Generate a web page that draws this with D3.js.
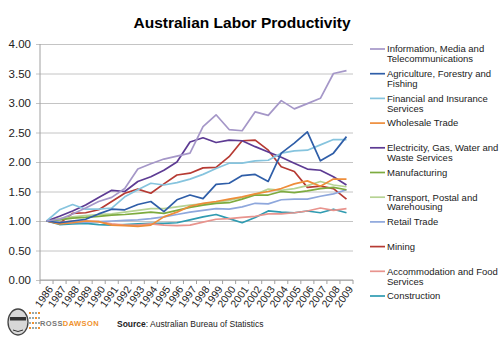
<!DOCTYPE html>
<html>
<head>
<meta charset="utf-8">
<script src="https://cdn.jsdelivr.net/npm/d3@7"></script>
<style>
  body { margin: 0; background: #fff; }
  text { font-family: "Liberation Sans", Arial, sans-serif; }
</style>
</head>
<body>
<div id="chart"></div>
<script>
const years = d3.range(1986, 2010).map(String)
const yTicks = [0, 0.5, 1, 1.5, 2, 2.5, 3, 3.5, 4]

// productivity index, 1986 = 1.00
const info = [1.00,1.03,1.12,1.22,1.33,1.40,1.55,1.88,1.97,2.05,2.10,2.15,2.60,2.80,2.55,2.53,2.85,2.79,3.04,2.90,2.99,3.08,3.50,3.55]
const agriculture = [1.00,0.97,1.00,1.03,1.12,1.20,1.19,1.28,1.33,1.16,1.36,1.44,1.38,1.62,1.64,1.77,1.79,1.67,2.15,2.32,2.51,2.02,2.15,2.43]
const financial = [1.00,1.19,1.28,1.20,1.20,1.22,1.41,1.53,1.64,1.61,1.65,1.71,1.79,1.89,1.98,1.98,2.02,2.03,2.15,2.19,2.20,2.29,2.38,2.38]
const wholesale = [1.00,0.95,0.97,1.00,0.99,0.93,0.92,0.91,0.93,1.07,1.15,1.25,1.30,1.33,1.37,1.41,1.46,1.50,1.55,1.63,1.68,1.59,1.71,1.71]
const electricity = [1.00,1.08,1.17,1.27,1.40,1.52,1.50,1.67,1.75,1.86,2.00,2.34,2.41,2.33,2.37,2.36,2.26,2.17,2.08,1.98,1.88,1.86,1.75,1.61]
const manufacturing = [1.00,1.02,1.05,1.06,1.08,1.10,1.11,1.13,1.15,1.13,1.18,1.23,1.27,1.30,1.31,1.37,1.44,1.44,1.50,1.48,1.51,1.55,1.57,1.53]
const transport = [1.00,1.04,1.07,1.09,1.11,1.12,1.15,1.18,1.21,1.21,1.24,1.27,1.29,1.32,1.35,1.40,1.45,1.54,1.52,1.55,1.60,1.67,1.61,1.58]
const retail = [1.00,0.98,0.97,0.98,0.99,1.00,1.01,1.02,1.04,1.07,1.11,1.15,1.18,1.21,1.20,1.24,1.30,1.29,1.36,1.37,1.37,1.42,1.46,1.53]
const mining = [1.00,0.96,1.13,1.14,1.19,1.33,1.47,1.54,1.47,1.63,1.78,1.81,1.90,1.91,2.09,2.36,2.37,2.20,1.92,1.84,1.57,1.59,1.55,1.37]
const accommodation = [1.00,0.98,1.00,1.00,0.99,0.95,0.93,0.93,0.95,0.93,0.92,0.93,0.98,1.03,1.04,1.06,1.08,1.12,1.12,1.14,1.17,1.22,1.18,1.21]
const construction = [1.00,0.94,0.95,0.96,0.94,0.93,0.94,0.95,0.96,0.96,0.97,1.02,1.07,1.11,1.04,0.97,1.06,1.17,1.15,1.14,1.17,1.14,1.20,1.14]

const series = [
  { name: ['Information,  Media and', 'Telecommunications'], values: info, color: '#a597c8' },
  { name: ['Agriculture,  Forestry and', 'Fishing'], values: agriculture, color: '#2f5ea8' },
  { name: ['Financial and Insurance', 'Services'], values: financial, color: '#86c4de' },
  { name: ['Wholesale Trade'], values: wholesale, color: '#ee8d3a' },
  { name: ['Electricity,  Gas, Water and', 'Waste Services'], values: electricity, color: '#5d3b93' },
  { name: ['Manufacturing'], values: manufacturing, color: '#7dab3f' },
  { name: ['Transport,  Postal and', 'Warehousing'], values: transport, color: '#b6d393' },
  { name: ['Retail Trade'], values: retail, color: '#8ea7dc' },
  { name: ['Mining'], values: mining, color: '#b63a33' },
  { name: ['Accommodation and Food', 'Services'], values: accommodation, color: '#e8948e' },
  { name: ['Construction'], values: construction, color: '#2f9bb1' },
]

const width = 500, height = 340
const plot = { left: 40, right: 353, top: 44, bottom: 280 }

const svg = d3.select('#chart')
  .append('svg')
  .attr('width', width)
  .attr('height', height)

svg.append('rect').attr('width', width).attr('height', height).attr('fill', '#fff')

const x = d3.scalePoint().domain(years).range([plot.left, plot.right]).padding(0.5)
const y = d3.scaleLinear().domain([0, 4]).range([plot.bottom, plot.top])

// title
svg.append('text')
  .attr('x', 242).attr('y', 28)
  .attr('text-anchor', 'middle')
  .attr('font-size', 15.5).attr('font-weight', 'bold')
  .text('Australian Labor Productivity')

// gridlines + y axis
const yAxis = svg.append('g')
  .attr('transform', `translate(${plot.left},0)`)
  .call(d3.axisLeft(y).tickValues(yTicks).tickFormat(d3.format('.2f'))
    .tickSize(-(plot.right - plot.left)).tickPadding(9))
yAxis.select('.domain').remove()
yAxis.selectAll('line').attr('stroke', '#c4c4c4').attr('x1', -4)
yAxis.selectAll('text').attr('font-size', 11.5).attr('fill', '#222')

svg.append('line')
  .attr('x1', plot.left).attr('x2', plot.left)
  .attr('y1', plot.top).attr('y2', plot.bottom)
  .attr('stroke', '#a0a0a0')

// x axis
const band = x.step()
svg.append('line')
  .attr('x1', plot.left).attr('x2', plot.right)
  .attr('y1', plot.bottom).attr('y2', plot.bottom)
  .attr('stroke', '#a0a0a0')
svg.append('g').selectAll('line')
  .data(d3.range(years.length + 1))
  .enter().append('line')
  .attr('x1', i => plot.left + i * band).attr('x2', i => plot.left + i * band)
  .attr('y1', plot.bottom).attr('y2', plot.bottom + 4)
  .attr('stroke', '#a0a0a0')

svg.append('g').selectAll('text')
  .data(years)
  .enter().append('text')
  .attr('transform', d => `translate(${x(d) + 4},${plot.bottom + 7}) rotate(-55)`)
  .attr('text-anchor', 'end')
  .attr('dy', '0.35em')
  .attr('font-size', 10.5)
  .attr('fill', '#222')
  .text(d => d)

// lines
const line = d3.line()
  .x((d, i) => x(years[i]))
  .y(d => y(d))

svg.append('g').selectAll('path')
  .data(series.slice().reverse())
  .enter().append('path')
  .attr('d', d => line(d.values))
  .attr('fill', 'none')
  .attr('stroke', d => d.color)
  .attr('stroke-width', 1.7)
  .attr('stroke-linejoin', 'round')

// legend
const legend = svg.append('g')
const entry = legend.selectAll('g')
  .data(series)
  .enter().append('g')
  .attr('transform', (d, i) => `translate(370,${49 + i * 24.7})`)

entry.append('line')
  .attr('x1', 0).attr('x2', 15)
  .attr('stroke', d => d.color)
  .attr('stroke-width', 1.7)

entry.append('text')
  .attr('x', 17)
  .attr('font-size', 9.5)
  .attr('fill', '#222')
  .selectAll('tspan')
  .data(d => d.name)
  .enter().append('tspan')
  .attr('x', 17)
  .attr('dy', (d, i) => i === 0 ? '0.35em' : '1.05em')
  .text(d => d)

// footer: logo mark
const logo = svg.append('g').attr('transform', 'translate(6,307)')
logo.append('ellipse').attr('cx', 12).attr('cy', 15).attr('rx', 10).attr('ry', 13).attr('fill', '#d8d8d8').attr('stroke', '#444').attr('stroke-width', 1.3)
logo.append('rect').attr('x', 4).attr('y', 10).attr('width', 16).attr('height', 3.5).attr('fill', '#333')
logo.append('path').attr('d', 'M7 23 Q12 26 17 23').attr('fill', 'none').attr('stroke', '#333')
logo.selectAll('rect.px')
  .data(d3.range(16))
  .enter().append('rect')
  .attr('class', 'px')
  .attr('x', i => 23 + (i % 4) * 3)
  .attr('y', i => 5 + Math.floor(i / 4) * 5)
  .attr('width', 2).attr('height', 2)
  .attr('fill', i => i % 3 === 0 ? '#f0922e' : '#9aa')

const brand = svg.append('text')
  .attr('x', 40).attr('y', 326)
  .attr('font-size', 7.5).attr('font-weight', 'bold')
  .attr('letter-spacing', 0.4)
brand.append('tspan').attr('fill', '#777').text('ROSS')
brand.append('tspan').attr('fill', '#f0922e').text('DAWSON')

const source = svg.append('text')
  .attr('x', 117).attr('y', 327)
  .attr('font-size', 8.5)
  .attr('fill', '#222')
source.append('tspan').attr('font-weight', 'bold').text('Source')
source.append('tspan').text(': Australian Bureau of Statistics')
</script>
</body>
</html>
